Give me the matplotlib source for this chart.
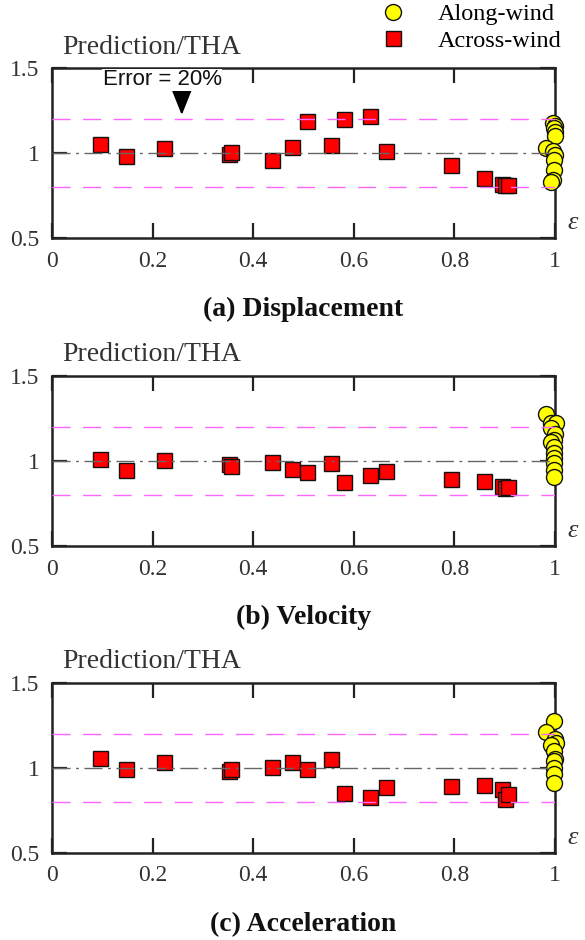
import matplotlib.pyplot as plt
import numpy as np

plt.rcParams['font.family'] = ['Liberation Serif', 'DejaVu Serif']

# across-wind results (squares), same epsilon for every panel
eps_across = [0.095, 0.147, 0.223, 0.351, 0.355, 0.437, 0.477, 0.506, 0.554,
              0.581, 0.632, 0.665, 0.793, 0.859, 0.895, 0.900, 0.907]
disp_across = [1.056, 0.985, 1.034, 0.997, 1.009, 0.962, 1.040, 1.189, 1.048,
               1.201, 1.219, 1.016, 0.931, 0.854, 0.823, 0.812, 0.812]
vel_across = [1.014, 0.947, 1.006, 0.982, 0.972, 0.994, 0.951, 0.935, 0.990,
              0.878, 0.916, 0.941, 0.892, 0.882, 0.853, 0.839, 0.849]
acc_across = [1.058, 0.991, 1.034, 0.983, 0.991, 1.003, 1.036, 0.991, 1.054,
              0.852, 0.828, 0.885, 0.893, 0.897, 0.874, 0.819, 0.844]

# along-wind results (circles), all close to epsilon = 1
eps_along_d = [0.997, 1.0, 0.999, 1.0, 1.0, 0.982, 0.997, 1.0, 0.998, 0.998, 0.996, 0.993]
disp_along = [1.178, 1.160, 1.148, 1.125, 1.103, 1.030, 1.012, 0.990, 0.962, 0.900, 0.845, 0.835]
eps_along_v = [0.982, 0.993, 1.002, 0.993, 1.0, 0.999, 0.993, 0.999, 0.999, 0.999, 0.999, 0.999, 0.999]
vel_along = [1.276, 1.222, 1.222, 1.192, 1.159, 1.124, 1.114, 1.084, 1.049, 1.016, 0.986, 0.947, 0.904]
eps_along_a = [0.999, 0.982, 1.0, 1.002, 0.993, 0.999, 1.0, 0.999, 0.999, 0.999, 0.999]
acc_along = [1.278, 1.213, 1.168, 1.148, 1.132, 1.099, 1.054, 1.040, 1.001, 0.962, 0.909]

panels = [("(a) Displacement", disp_across, eps_along_d, disp_along),
          ("(b) Velocity", vel_across, eps_along_v, vel_along),
          ("(c) Acceleration", acc_across, eps_along_a, acc_along)]
bottoms = [0.7463, 0.4191, 0.0926]

fig = plt.figure(figsize=(5.85, 9.4), dpi=100)

for (title, across, eps_al, along), b in zip(panels, bottoms):
    ax = fig.add_axes([0.0889, b, 0.8598, 0.1809])
    ax.set_xlim(0, 1)
    ax.set_ylim(0.5, 1.5)

    ax.axhline(1.2, color='#ff66ff', lw=1.0, dashes=(13, 9), zorder=5)
    ax.axhline(0.8, color='#ff66ff', lw=1.0, dashes=(13, 9), zorder=5)
    ax.axhline(1.0, color='#666666', lw=1.0, dashes=(13, 4, 2, 4), zorder=5)

    sq, = ax.plot(eps_across, across, ls='none', marker='s', ms=10.8,
                  mfc='#ff0000', mec='#111111', mew=1.0, zorder=3)
    ci, = ax.plot(eps_al, along, ls='none', marker='o', ms=11.5,
                  mfc='#ffff00', mec='#111111', mew=1.0, zorder=4, clip_on=False)

    ax.set_xticks([0, 0.2, 0.4, 0.6, 0.8, 1.0])
    ax.set_xticklabels(['0', '0.2', '0.4', '0.6', '0.8', '1'])
    ax.set_yticks([0.5, 1.0, 1.5])
    ax.set_yticklabels(['0.5', '1', '1.5'])
    ax.tick_params(direction='in', length=11, width=1.6, labelsize=17,
                   labelcolor='#333333', color='#222222', top=True, right=True)
    ax.tick_params(axis='x', pad=9)
    ax.tick_params(axis='y', pad=9)
    for s in ax.spines.values():
        s.set_linewidth(1.8)
        s.set_color('#222222')

    ax.text(0.02, 1.05, 'Prediction/THA', transform=ax.transAxes, fontsize=20,
            color='#333333', ha='left', va='bottom')
    ax.text(1.025, 0.09, 'ε', transform=ax.transAxes, fontsize=19,
            style='italic', color='#333333', ha='left', va='center')
    ax.text(0.5, -0.42, title, transform=ax.transAxes, fontsize=20,
            fontweight='bold', ha='center', va='center', color='#111111')

    if b == bottoms[0]:
        ax.annotate('', xy=(0.258, 1.226), xytext=(0.258, 1.40),
                    arrowprops=dict(arrowstyle='-|>,head_length=0.9,head_width=0.36',
                                    mutation_scale=20, shrinkA=0, shrinkB=0,
                                    color='black', lw=1.5), zorder=6)
        ax.text(0.219, 1.432, 'Error = 20%', fontsize=16, family='Liberation Sans',
                ha='center', va='center', color='#111111', zorder=7,
                bbox=dict(facecolor='white', edgecolor='none', pad=0.5))
        fig.legend([ci, sq], ['Along-wind', 'Across-wind'], loc='upper left',
                   bbox_to_anchor=(381 / 585, 1 - 3 / 940), frameon=False,
                   borderpad=0, borderaxespad=0, handlelength=1.0,
                   handletextpad=1.35, labelspacing=0.2, fontsize=17.5, numpoints=1)

fig.savefig('out.png', dpi=100)
